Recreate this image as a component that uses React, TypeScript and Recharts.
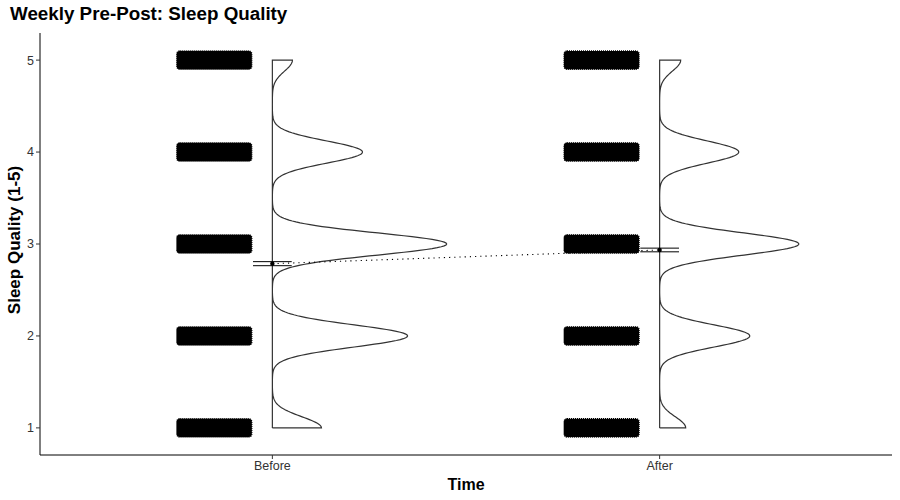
import React from "react";
import { ComposedChart, XAxis, YAxis, Line, Scatter, ReferenceArea } from "recharts";

const groups = ["Before", "After"];
const groupPositions = [1, 2];
const levels = [1, 2, 3, 4, 5];
// responses per rating level
const beforeCounts = [49, 135, 174, 90, 20];
const afterCounts = [26, 90, 139, 79, 21];
const groupMeans = [2.786, 2.935];
const groupSE = [0.022, 0.02];
const yTicks = [1, 2, 3, 4, 5];

const BW = 0.12;
const MAX_HALF = 0.45;
const JIT_LEFT = -0.247;
const JIT_RIGHT = -0.053;
const JIT_H = 0.1;
const CAP = 0.05;
const FONT = "'Liberation Sans', Arial, Helvetica, sans-serif";

const maxCount = Math.max(...beforeCounts, ...afterCounts);

const violinPoints = (pos: number, counts: number[]) => {
  const width = (y: number) =>
    counts.reduce((s, c, i) => s + c * Math.exp(-((y - levels[i]) ** 2) / (2 * BW * BW)), 0) *
    (MAX_HALF / maxCount);
  const pts = [{ x: pos, y: 1 }];
  for (let i = 0; i <= 400; i++) {
    const y = 1 + i / 100;
    pts.push({ x: pos + width(y), y });
  }
  pts.push({ x: pos, y: 5 });
  pts.push({ x: pos, y: 1 });
  return pts;
};

const errorBarPoints = (pos: number, mean: number, se: number) => [
  { x: pos - CAP, y: mean + se },
  { x: pos + CAP, y: mean + se },
  { x: pos + CAP, y: null },
  { x: pos - CAP, y: mean - se },
  { x: pos + CAP, y: mean - se },
  { x: pos + CAP, y: null },
  { x: pos, y: mean + se },
  { x: pos, y: mean - se },
];

const meanData = groupPositions.map((p, i) => ({ x: p, y: groupMeans[i] }));

const Blob = (p: any) => (
  <rect
    x={p.x}
    y={p.y}
    width={p.width}
    height={p.height}
    rx={3}
    fill="#000"
    stroke="#000"
    strokeWidth={1.2}
    strokeDasharray="1 1"
  />
);

export default function App() {
  const countsByGroup = [beforeCounts, afterCounts];
  return (
    <div style={{ position: "absolute", left: 0, top: 0, width: 900, height: 500, background: "#fff", fontFamily: FONT }}>
      <div style={{ position: "absolute", left: 10, top: 3, fontSize: 18.8, fontWeight: "bold", color: "#000" }}>
        Weekly Pre-Post: Sleep Quality
      </div>
      <div
        style={{
          position: "absolute",
          left: 466,
          top: 476,
          transform: "translateX(-50%)",
          fontSize: 16,
          fontWeight: "bold",
          color: "#000",
        }}
      >
        Time
      </div>
      <div
        style={{
          position: "absolute",
          left: 15,
          top: 240,
          transform: "translate(-50%, -50%) rotate(-90deg)",
          fontSize: 17,
          fontWeight: "bold",
          color: "#000",
          whiteSpace: "nowrap",
        }}
      >
        Sleep Quality (1-5)
      </div>
      <ComposedChart width={900} height={500} margin={{ top: 33, right: 8, bottom: 0, left: 0 }}>
        <XAxis
          type="number"
          dataKey="x"
          domain={[0.4, 2.6]}
          allowDataOverflow
          ticks={groupPositions}
          tickFormatter={(v: number) => groups[groupPositions.indexOf(v)]}
          height={45}
          tickSize={4}
          tickMargin={2}
          tick={{ fill: "#333", fontSize: 12.5, fontFamily: FONT }}
          tickLine={{ stroke: "#333" }}
          axisLine={{ stroke: "#000" }}
        />
        <YAxis
          type="number"
          dataKey="y"
          domain={[0.705, 5.295]}
          allowDataOverflow
          ticks={yTicks}
          width={40}
          tickSize={4}
          tickMargin={2}
          tick={{ fill: "#333", fontSize: 12.5, fontFamily: FONT }}
          tickLine={{ stroke: "#333" }}
          axisLine={{ stroke: "#000" }}
        />
        {groupPositions.map((pos) =>
          levels.map((lv) => (
            <ReferenceArea
              key={`blob-${pos}-${lv}`}
              x1={pos + JIT_LEFT}
              x2={pos + JIT_RIGHT}
              y1={lv - JIT_H}
              y2={lv + JIT_H}
              shape={Blob}
            />
          ))
        )}
        {groupPositions.map((pos, i) => (
          <Line
            key={`violin-${pos}`}
            data={violinPoints(pos, countsByGroup[i])}
            dataKey="y"
            type="linear"
            stroke="#333"
            strokeWidth={1.2}
            dot={false}
            activeDot={false}
            isAnimationActive={false}
          />
        ))}
        {groupPositions.map((pos, i) => (
          <Line
            key={`err-${pos}`}
            data={errorBarPoints(pos, groupMeans[i], groupSE[i])}
            dataKey="y"
            type="linear"
            stroke="#000"
            strokeWidth={1}
            dot={false}
            activeDot={false}
            connectNulls={false}
            isAnimationActive={false}
          />
        ))}
        <Line
          data={meanData}
          dataKey="y"
          type="linear"
          stroke="#000"
          strokeWidth={1.1}
          strokeDasharray="1.2 4"
          dot={false}
          activeDot={false}
          isAnimationActive={false}
        />
        <Scatter
          data={meanData}
          dataKey="y"
          fill="#000"
          shape={(p: any) => <circle cx={p.cx} cy={p.cy} r={2.2} fill="#000" />}
          isAnimationActive={false}
        />
      </ComposedChart>
    </div>
  );
}
